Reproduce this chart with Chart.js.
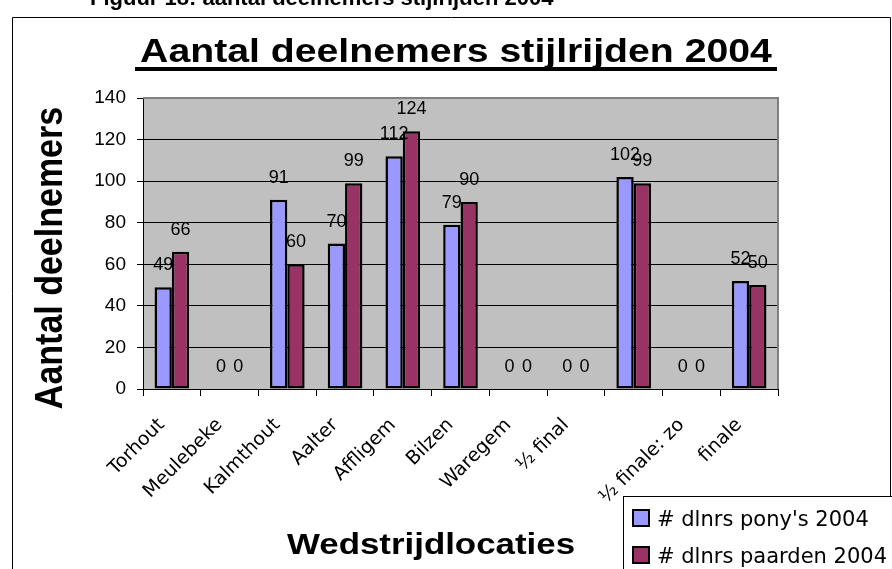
<!DOCTYPE html>
<html>
<head>
<meta charset="utf-8">
<script src="https://cdn.jsdelivr.net/npm/chart.js@4.4.1/dist/chart.umd.min.js"></script>
<style>
  html, body { margin: 0; padding: 0; background: #fff; }
  canvas { display: block; }
</style>
</head>
<body>
<canvas id="chart" width="892" height="569"></canvas>
<script>
// data
const locations = ['Torhout', 'Meulebeke', 'Kalmthout', 'Aalter', 'Affligem', 'Bilzen', 'Waregem', '\u00BD final', '', '\u00BD finale: zo', 'finale'];
const ponies2004 = [49, 0, 91, 70, 112, 79, 0, 0, 102, 0, 52];
const horses2004 = [66, 0, 60, 99, 124, 90, 0, 0, 99, 0, 50];
const seriesNames = ["# dlnrs pony's 2004", '# dlnrs paarden 2004'];
const yMin = 0, yMax = 140, yStep = 20;

const caption = 'Figuur 18: aantal deelnemers stijlrijden 2004';
const chartTitle = 'Aantal deelnemers stijlrijden 2004';
const yTitle = 'Aantal deelnemers';
const xTitle = 'Wedstrijdlocaties';

// draws a bold arial string, stretched sideways like the original picture
function wideText(ctx, text, x, y, size, stretch, rotate) {
  ctx.save();
  ctx.translate(x, y);
  ctx.scale(stretch, 1);
  if (rotate) ctx.rotate(-Math.PI / 2);
  ctx.font = 'bold ' + size + 'px "Liberation Sans", Arial, sans-serif';
  ctx.fillStyle = '#000';
  ctx.textAlign = 'center';
  ctx.textBaseline = 'alphabetic';
  ctx.fillText(text, 0, 0);
  ctx.restore();
}

const decorPlugin = {
  id: 'decor',
  beforeDraw(chart) {
    const ctx = chart.ctx, a = chart.chartArea;
    ctx.save();
    ctx.fillStyle = '#fff';
    ctx.fillRect(0, 0, chart.width, chart.height);
    ctx.fillStyle = '#C0C0C0';
    ctx.fillRect(a.left, a.top, a.right - a.left, a.bottom - a.top);
    ctx.restore();
  },
  beforeDatasetsDraw(chart) {
    const ctx = chart.ctx, a = chart.chartArea;
    ctx.save();
    ctx.strokeStyle = '#808080';
    ctx.lineWidth = 2;
    ctx.beginPath();
    ctx.moveTo(a.left, a.top);
    ctx.lineTo(a.right, a.top);
    ctx.lineTo(a.right, a.bottom);
    ctx.stroke();
    ctx.restore();
  },
  afterDatasetsDraw(chart) {
    const ctx = chart.ctx;
    ctx.save();
    ctx.font = '18px "Liberation Sans", Arial, sans-serif';
    ctx.fillStyle = '#000';
    ctx.textAlign = 'center';
    ctx.textBaseline = 'alphabetic';
    chart.data.datasets.forEach((ds, i) => {
      chart.getDatasetMeta(i).data.forEach((bar, j) => {
        ctx.fillText(String(ds.data[j]), bar.x, bar.y - 17);
      });
    });
    ctx.restore();
  },
  afterDraw(chart) {
    const ctx = chart.ctx;
    ctx.save();
    // outer frame of the chart object
    ctx.strokeStyle = '#000';
    ctx.lineWidth = 1;
    ctx.beginPath();
    ctx.moveTo(12.5, 569);
    ctx.lineTo(12.5, 17.5);
    ctx.lineTo(890.5, 17.5);
    ctx.lineTo(890.5, 569);
    ctx.stroke();

    // caption of the document, cut off at the top
    ctx.font = 'bold 22px "Liberation Sans", Arial, sans-serif';
    ctx.fillStyle = '#000';
    ctx.textAlign = 'left';
    ctx.textBaseline = 'alphabetic';
    ctx.fillText(caption, 90, 5);

    // titles
    wideText(ctx, chartTitle, 456, 62, 33.5, 1.17, false);
    ctx.fillStyle = '#000';
    ctx.fillRect(135, 67, 642, 4);
    wideText(ctx, yTitle, 62, 258, 34, 1.15, true);
    wideText(ctx, xTitle, 431, 554, 29.3, 1.19, false);

    // legend box
    ctx.fillStyle = '#fff';
    ctx.fillRect(623, 496, 269, 73);
    ctx.strokeStyle = '#000';
    ctx.lineWidth = 1;
    ctx.strokeRect(623.5, 496.5, 280, 90);
    ctx.font = '21px "DejaVu Sans", sans-serif';
    ctx.textBaseline = 'alphabetic';
    chart.data.datasets.forEach((ds, i) => {
      const y = 510 + i * 37;
      ctx.fillStyle = ds.backgroundColor;
      ctx.fillRect(633, y, 16, 16);
      ctx.lineWidth = 2;
      ctx.strokeRect(633, y, 16, 16);
      ctx.fillStyle = '#000';
      ctx.fillText(ds.label, 657, y + 16);
    });
    ctx.restore();
  }
};

new Chart(document.getElementById('chart'), {
  type: 'bar',
  data: {
    labels: locations,
    datasets: [
      { label: seriesNames[0], data: ponies2004, backgroundColor: '#9999FF' },
      { label: seriesNames[1], data: horses2004, backgroundColor: '#993366' }
    ]
  },
  options: {
    responsive: false,
    animation: false,
    devicePixelRatio: 1,
    layout: { padding: { left: 0, top: 98, right: 114, bottom: 0 } },
    datasets: {
      bar: {
        borderColor: '#000',
        borderWidth: 2.5,
        borderSkipped: false,
        categoryPercentage: 0.6,
        barPercentage: 1.0
      }
    },
    plugins: {
      legend: { display: false },
      title: { display: false },
      tooltip: { enabled: false }
    },
    scales: {
      x: {
        offset: true,
        afterFit: s => { s.height = 180; },
        grid: { offset: true, drawOnChartArea: false, tickLength: 7, tickColor: '#000', color: '#000' },
        border: { color: '#000', width: 1 },
        ticks: {
          autoSkip: false,
          minRotation: 45,
          maxRotation: 45,
          padding: 18,
          labelOffset: -10,
          color: '#000',
          font: { family: '"DejaVu Sans", sans-serif', size: 19 }
        }
      },
      y: {
        min: yMin,
        max: yMax,
        afterFit: s => { s.width = 143; },
        grid: {
          color: c => (c.tick && c.tick.value === yMax ? '#808080' : '#000'),
          tickColor: '#000',
          tickLength: 6,
          lineWidth: 1
        },
        border: { color: '#000', width: 1 },
        ticks: {
          stepSize: yStep,
          padding: 11,
          color: '#000',
          font: { family: '"Liberation Sans", Arial, sans-serif', size: 19 }
        }
      }
    }
  },
  plugins: [decorPlugin]
});
</script>
</body>
</html>
